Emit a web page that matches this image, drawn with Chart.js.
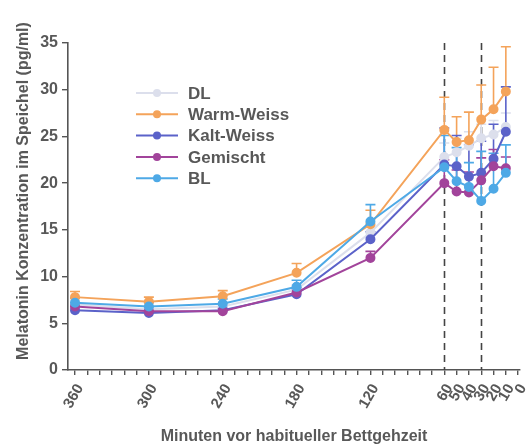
<!DOCTYPE html>
<html>
<head>
<meta charset="utf-8">
<script src="https://cdn.jsdelivr.net/npm/chart.js@4.4.1/dist/chart.umd.min.js"></script>
<style>
  html, body { margin: 0; padding: 0; background: #ffffff; }
  #wrap { width: 526px; height: 446px; }
</style>
</head>
<body>
<div id="wrap"><canvas id="c" width="526" height="446"></canvas></div>
<script>
// Minutes before habitual bedtime at which saliva samples were taken
const minutes = [360, 300, 240, 180, 120, 60, 50, 40, 30, 20, 10];

// Mean melatonin concentration (pg/ml) per lighting condition
const dl        = [7.0, 6.5, 6.8, 8.6, 14.7, 22.8, 23.3, 24.0, 24.8, 25.2, 26.0];
const warmWeiss = [7.8, 7.3, 7.9, 10.4, 15.6, 25.7, 24.4, 24.6, 26.8, 27.9, 29.8];
const kaltWeiss = [6.4, 6.1, 6.4, 8.1, 14.0, 22.0, 21.8, 20.7, 21.1, 22.6, 25.5];
const gemischt  = [6.8, 6.3, 6.3, 8.3, 12.0, 20.0, 19.1, 19.0, 20.3, 21.8, 21.6];
const bl        = [7.2, 6.8, 7.1, 8.9, 15.9, 21.7, 20.2, 19.6, 18.1, 19.4, 21.1];

// Standard error (upper bar length, pg/ml)
const dlErr        = [0.4, 0.3, 0.4, 0.5, 0.8, 1.5, 1.5, 1.5, 1.5, 1.5, 1.5];
const warmWeissErr = [0.6, 0.5, 0.6, 1.0, 1.5, 3.5, 2.7, 3.0, 3.7, 4.5, 4.8];
const kaltWeissErr = [0.4, 0.3, 0.4, 0.5, 0.8, 3.9, 3.3, 3.4, 3.4, 3.7, 4.8];
const gemischtErr  = [0.4, 0.3, 0.3, 0.5, 0.7, 2.5, 2.3, 2.2, 2.4, 1.8, 1.2];
const blErr        = [0.5, 0.4, 0.5, 0.7, 1.8, 3.4, 3.6, 2.6, 5.3, 3.8, 3.0];

// Tick positions along the time axis and which of them carry a label
const xTicks = [360, 350, 340, 330, 320, 310, 300, 290, 280, 270, 260, 250, 240, 230, 220, 210, 200, 190,
                180, 170, 160, 150, 140, 130, 120, 110, 100, 90, 80, 70, 60, 50, 40, 30, 20, 10, 0];
const xLabelled = [360, 300, 240, 180, 120, 60, 50, 40, 30, 20, 10, 0];
const yTicks = [0, 5, 10, 15, 20, 25, 30, 35];
const markerLines = [60, 30];

const xTitle = 'Minuten vor habitueller Bettgehzeit';
const yTitle = 'Melatonin Konzentration im Speichel (pg/ml)';

const TEXT = '#585858';
const AXIS = '#555555';
const FONT = '"Liberation Sans", Arial, sans-serif';

function series(label, values, errs, color) {
  return {
    label,
    data: minutes.map((m, i) => ({ x: m, y: values[i] })),
    errors: errs,
    borderColor: color,
    backgroundColor: color,
    pointBackgroundColor: color,
    pointBorderColor: color,
    borderWidth: 2,
    pointRadius: 4,
    pointHoverRadius: 4,
    tension: 0
  };
}

const datasets = [
  series('BL', bl, blErr, '#4ea9e6'),
  series('Gemischt', gemischt, gemischtErr, '#a2449b'),
  series('Kalt-Weiss', kaltWeiss, kaltWeissErr, '#5b62c9'),
  series('Warm-Weiss', warmWeiss, warmWeissErr, '#f4a35a'),
  series('DL', dl, dlErr, '#dcdfec')
];

// Upper error bars with caps, drawn underneath the lines
const errorBars = {
  id: 'errorBars',
  beforeDatasetsDraw(chart) {
    const { ctx, scales: { x, y } } = chart;
    ctx.save();
    for (let d = chart.data.datasets.length - 1; d >= 0; d--) {
      const ds = chart.data.datasets[d];
      ctx.strokeStyle = ds.borderColor;
      ctx.lineWidth = 1.6;
      ds.data.forEach((p, i) => {
        const px = x.getPixelForValue(p.x);
        const py = y.getPixelForValue(p.y);
        const pt = y.getPixelForValue(p.y + ds.errors[i]);
        ctx.beginPath();
        ctx.moveTo(px, py);
        ctx.lineTo(px, pt);
        ctx.moveTo(px - 5, pt);
        ctx.lineTo(px + 5, pt);
        ctx.stroke();
      });
    }
    ctx.restore();
  }
};

// Dashed vertical reference lines
const refLines = {
  id: 'refLines',
  beforeDatasetsDraw(chart) {
    const { ctx, chartArea, scales: { x } } = chart;
    ctx.save();
    ctx.strokeStyle = '#444444';
    ctx.lineWidth = 1.6;
    ctx.setLineDash([7, 5]);
    markerLines.forEach(m => {
      const px = Math.round(x.getPixelForValue(m)) + 0.5;
      ctx.beginPath();
      ctx.moveTo(px, chartArea.top);
      ctx.lineTo(px, chartArea.bottom);
      ctx.stroke();
    });
    ctx.restore();
  }
};

// Vertical axis title, placed a little above the middle of the axis
const yAxisTitle = {
  id: 'yAxisTitle',
  afterDraw(chart) {
    const { ctx } = chart;
    ctx.save();
    ctx.translate(24, 191);
    ctx.rotate(-Math.PI / 2);
    ctx.font = 'bold 16px ' + FONT;
    ctx.fillStyle = TEXT;
    ctx.textAlign = 'center';
    ctx.textBaseline = 'middle';
    ctx.fillText(yTitle, 0, 0);
    ctx.restore();
  }
};

// Legend drawn inside the plot area
const innerLegend = {
  id: 'innerLegend',
  afterDraw(chart) {
    const { ctx } = chart;
    const order = ['DL', 'Warm-Weiss', 'Kalt-Weiss', 'Gemischt', 'BL'];
    ctx.save();
    ctx.font = 'bold 17px ' + FONT;
    ctx.textBaseline = 'middle';
    ctx.textAlign = 'left';
    order.forEach((name, i) => {
      const ds = chart.data.datasets.find(s => s.label === name);
      const yy = 93 + i * 21.3;
      ctx.strokeStyle = ds.borderColor;
      ctx.fillStyle = ds.borderColor;
      ctx.lineWidth = 2;
      ctx.beginPath();
      ctx.moveTo(136, yy);
      ctx.lineTo(178, yy);
      ctx.stroke();
      ctx.beginPath();
      ctx.arc(157, yy, 4, 0, Math.PI * 2);
      ctx.fill();
      ctx.fillStyle = TEXT;
      ctx.fillText(name, 188, yy + 1);
    });
    ctx.restore();
  }
};

new Chart(document.getElementById('c'), {
  type: 'line',
  data: { datasets },
  plugins: [refLines, errorBars, innerLegend, yAxisTitle],
  options: {
    responsive: false,
    animation: false,
    events: [],
    layout: { padding: { top: 43, right: 0, left: 0, bottom: 0 } },
    plugins: { legend: { display: false }, tooltip: { enabled: false } },
    scales: {
      x: {
        type: 'linear',
        reverse: true,
        min: -1.5,
        max: 365.7,
        afterFit(scale) {
          scale.height = 76;
          scale.paddingLeft = 0;
          scale.paddingRight = 0;
        },
        afterBuildTicks(scale) { scale.ticks = xTicks.map(v => ({ value: v })); },
        border: { color: AXIS, width: 1.6 },
        grid: { display: true, drawOnChartArea: false, drawTicks: true, tickLength: 5, color: AXIS, lineWidth: 1.4 },
        ticks: {
          autoSkip: false,
          minRotation: 60,
          maxRotation: 60,
          padding: 6,
          labelOffset: 5,
          color: TEXT,
          font: { family: FONT, size: 15, weight: 'bold' },
          callback: v => xLabelled.includes(v) ? String(v) : ''
        },
        title: {
          display: true,
          text: xTitle,
          color: TEXT,
          padding: { top: 0, bottom: 0 },
          font: { family: FONT, size: 16, weight: 'bold' }
        }
      },
      y: {
        min: 0,
        max: 35,
        afterFit(scale) { scale.width = 68; },
        afterBuildTicks(scale) { scale.ticks = yTicks.map(v => ({ value: v })); },
        border: { color: AXIS, width: 1.6 },
        grid: { display: true, drawOnChartArea: false, drawTicks: true, tickLength: 6, color: AXIS, lineWidth: 1.4 },
        ticks: {
          padding: 4,
          color: TEXT,
          font: { family: FONT, size: 16, weight: 'bold' }
        }
      }
    }
  }
});
</script>
</body>
</html>
